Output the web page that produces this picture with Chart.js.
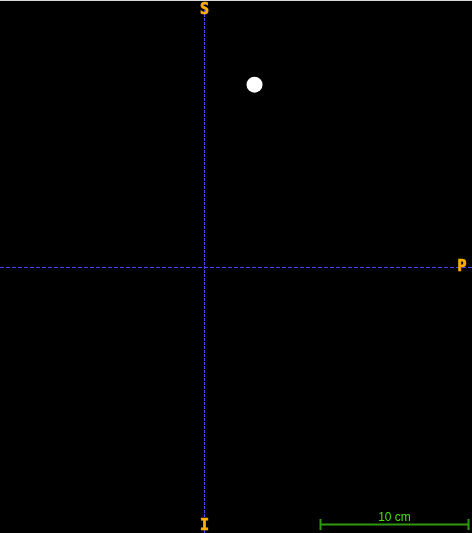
<!DOCTYPE html>
<html>
<head>
<meta charset="utf-8">
<script src="https://cdn.jsdelivr.net/npm/chart.js@4/dist/chart.umd.min.js"></script>
<style>
    html, body { margin: 0; padding: 0; background: #000; }
    #wrap { width: 472px; height: 533px; }
</style>
</head>
<body>
<div id="wrap"><canvas id="plane"></canvas></div>
<script>
// view window in cm (origin where the two reference lines cross)
const xRange = [-13.818, 18.074];
const yRange = [-17.94, 18.074];

// the one white spot
const spotX = [3.38];
const spotY = [12.35];

// orientation letters: superior, inferior, posterior
const orientLabels = ['S', 'I', 'P'];

// scale bar
const scaleCm = 10;
const scaleLabel = '10 cm';

const overlay = {
    id: 'overlay',
    afterDatasetsDraw(chart) {
        const ctx = chart.ctx;
        const x = chart.scales.x;
        const y = chart.scales.y;
        ctx.save();

        // thin frame line on top
        ctx.fillStyle = '#d8d8d8';
        ctx.fillRect(0, 0, chart.width, 1);

        // orientation letters, a bit heavier than plain bold
        ctx.fillStyle = '#ffb000';
        ctx.strokeStyle = '#ffb000';
        ctx.lineWidth = 0.7;
        ctx.font = 'bold 15px "DejaVu Sans Mono"';
        ctx.textAlign = 'center';
        ctx.textBaseline = 'middle';
        let spots = [
            [x.getPixelForValue(0), y.getPixelForValue(yRange[1]) + 10],
            [x.getPixelForValue(0), y.getPixelForValue(yRange[0]) - 7],
            [x.getPixelForValue(xRange[1]) - 10, y.getPixelForValue(0)]
        ];
        orientLabels.forEach((t, i) => {
            ctx.fillText(t, spots[i][0], spots[i][1]);
            ctx.strokeText(t, spots[i][0], spots[i][1]);
        });

        // scale bar, right end near the right edge
        let x2 = x.getPixelForValue(xRange[1]) - 3.5;
        let x1 = x2 - (x.getPixelForValue(scaleCm) - x.getPixelForValue(0));
        let yb = y.getPixelForValue(yRange[0]) - 8.5;
        ctx.strokeStyle = '#2e9a0c';
        ctx.lineWidth = 2;
        ctx.beginPath();
        ctx.moveTo(x1, yb);
        ctx.lineTo(x2, yb);
        ctx.moveTo(x1, yb - 5.5);
        ctx.lineTo(x1, yb + 5.5);
        ctx.moveTo(x2, yb - 5.5);
        ctx.lineTo(x2, yb + 5.5);
        ctx.stroke();

        ctx.fillStyle = '#44e400';
        ctx.font = '12px "Liberation Sans"';
        ctx.textBaseline = 'alphabetic';
        ctx.fillText(scaleLabel, (x1 + x2) / 2, yb - 4);

        ctx.restore();
    }
};

const ctx = document.querySelector('#plane').getContext('2d');

new Chart(ctx, {
    type: 'scatter',
    data: {
        datasets: [
            {
                label: 'vertical',
                type: 'line',
                data: [{ x: 0, y: yRange[0] }, { x: 0, y: yRange[1] }],
                borderColor: '#4848ff',
                borderWidth: 1,
                borderDash: [3, 1],
                pointRadius: 0
            },
            {
                label: 'horizontal',
                type: 'line',
                data: [{ x: xRange[0], y: 0 }, { x: xRange[1], y: 0 }],
                borderColor: '#4848ff',
                borderWidth: 1,
                borderDash: [4, 2],
                pointRadius: 0
            },
            {
                label: 'spot',
                data: spotX.map((v, i) => ({ x: v, y: spotY[i] })),
                backgroundColor: '#ffffff',
                borderColor: '#ffffff',
                borderWidth: 0,
                pointRadius: 8
            }
        ]
    },
    options: {
        animation: false,
        responsive: true,
        maintainAspectRatio: false,
        layout: { padding: 0, autoPadding: false },
        plugins: {
            legend: { display: false },
            tooltip: { enabled: false }
        },
        scales: {
            x: { type: 'linear', display: false, min: xRange[0], max: xRange[1] },
            y: { type: 'linear', display: false, min: yRange[0], max: yRange[1] }
        }
    },
    plugins: [overlay]
});
</script>
</body>
</html>
